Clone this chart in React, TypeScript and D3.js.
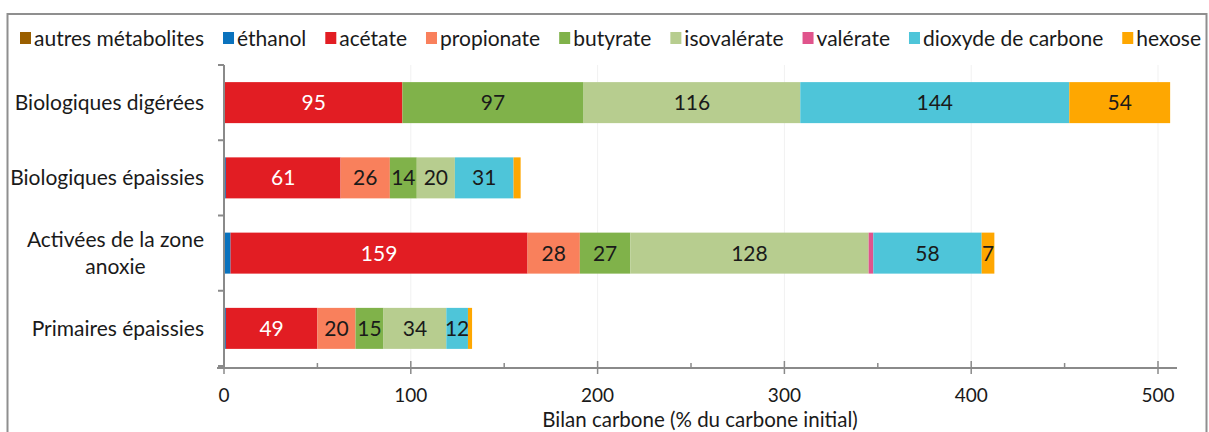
import React, { useEffect, useRef } from "react";
import * as d3 from "d3";

const categories = [
  "Biologiques digérées",
  "Biologiques épaissies",
  "Activées de la zone\nanoxie",
  "Primaires épaissies",
];

const seriesNames = [
  "autres métabolites",
  "éthanol",
  "acétate",
  "propionate",
  "butyrate",
  "isovalérate",
  "valérate",
  "dioxyde de carbone",
  "hexose",
];

const seriesColors = [
  "#9a5f00",
  "#0a72bd",
  "#e21d23",
  "#f9805c",
  "#80b24a",
  "#b7cd8f",
  "#e0548c",
  "#4ec5d9",
  "#fea701",
];

const autres = [0, 0, 0, 0];
const ethanol = [0.5, 1, 3.5, 1];
const acetate = [95, 61.4, 159, 49];
const propionate = [0, 26.4, 28, 20.4];
const butyrate = [97, 14.4, 27, 15];
const isovalerate = [116, 20.4, 127.6, 33.6];
const valerate = [0, 0, 2.5, 0];
const dioxyde = [144, 31.4, 58, 11.6];
const hexose = [54, 3.8, 6.8, 2.2];

const seriesValues = [autres, ethanol, acetate, propionate, butyrate, isovalerate, valerate, dioxyde, hexose];

const xTicks = [0, 100, 200, 300, 400, 500];
const xMinorTicks = [50, 150, 250, 350, 450];
const xTitle = "Bilan carbone (% du carbone initial)";

const FONT = "Lato, 'Open Sans', sans-serif";

export default function App() {
  const ref = useRef<SVGSVGElement | null>(null);

  useEffect(() => {
    const svg = d3.select(ref.current);
    svg.selectAll("*").remove();

    const W = 1209;
    const x = d3.scaleLinear().domain([0, 500]).range([224, 1158]);
    const y = d3.scaleBand<string>().domain(categories).range([65, 366]).paddingInner(0.455).paddingOuter(0.2275);

    svg.append("rect").attr("x", 0).attr("y", 0).attr("width", W).attr("height", 432).attr("fill", "#fff");
    // frame
    svg.append("rect").attr("x", 7.5).attr("y", 14).attr("width", 1199).attr("height", 440)
      .attr("fill", "none").attr("stroke", "#8f8f8f").attr("stroke-width", 2);

    // gridlines
    svg.append("g").selectAll("line").data(xTicks.slice(1)).join("line")
      .attr("x1", (d) => x(d)).attr("x2", (d) => x(d)).attr("y1", 65).attr("y2", 366)
      .attr("stroke", "#f1f1f1").attr("stroke-width", 1);

    // stacked bars
    const stackData = categories.map((c, i) => {
      const o: any = { cat: c };
      seriesNames.forEach((s, j) => (o[s] = seriesValues[j][i]));
      return o;
    });
    const stacked = d3.stack<any>().keys(seriesNames)(stackData);
    const barG = svg.append("g");
    stacked.forEach((layer, j) => {
      const g = barG.append("g").attr("fill", seriesColors[j]);
      g.selectAll("rect").data(layer).join("rect")
        .attr("x", (d) => x(d[0]))
        .attr("y", (d) => y(d.data.cat)!)
        .attr("width", (d) => Math.max(0, x(d[1]) - x(d[0])))
        .attr("height", y.bandwidth());
      g.selectAll("text").data(layer.filter((d) => d[1] - d[0] >= 5)).join("text")
        .attr("x", (d) => (x(d[0]) + x(d[1])) / 2)
        .attr("y", (d) => y(d.data.cat)! + y.bandwidth() / 2)
        .attr("dy", "0.36em")
        .attr("text-anchor", "middle")
        .attr("font-family", FONT)
        .attr("font-size", 21)
        .attr("fill", seriesNames[j] === "acétate" ? "#ffffff" : "#1a1a1a")
        .text((d) => d3.format(".0f")(d[1] - d[0]));
    });

    // y axis
    const axisColor = "#8a8a8a";
    svg.append("line").attr("x1", 224).attr("x2", 224).attr("y1", 65).attr("y2", 368)
      .attr("stroke", axisColor).attr("stroke-width", 2);
    const bounds = categories.map((c) => y(c)! - (y.step() - y.bandwidth()) / 2);
    bounds.push(366);
    svg.append("g").selectAll("line").data(bounds).join("line")
      .attr("x1", 218).attr("x2", 224).attr("y1", (d) => d).attr("y2", (d) => d)
      .attr("stroke", axisColor).attr("stroke-width", 2);

    // category labels
    const labelG = svg.append("g").attr("font-family", FONT).attr("font-size", 21).attr("fill", "#1a1a1a");
    categories.forEach((c) => {
      const lines = c.split("\n");
      const cy = y(c)! + y.bandwidth() / 2;
      const t = labelG.append("text").attr("text-anchor", "middle");
      const tspans = lines.map((l, k) =>
        t.append("tspan").attr("y", cy + (k - (lines.length - 1) / 2) * 27).attr("dy", "0.36em").text(l)
      );
      const maxW = d3.max(tspans, (ts) => (ts.node() as SVGTSpanElement).getComputedTextLength()) || 0;
      tspans.forEach((ts) => ts.attr("x", 204 - maxW / 2));
    });

    // x axis
    svg.append("line").attr("x1", 217).attr("x2", 1177).attr("y1", 368).attr("y2", 368)
      .attr("stroke", axisColor).attr("stroke-width", 2);
    svg.append("g").selectAll("line").data(xTicks).join("line")
      .attr("x1", (d) => x(d)).attr("x2", (d) => x(d)).attr("y1", 361).attr("y2", 374)
      .attr("stroke", axisColor).attr("stroke-width", 1.5);
    svg.append("g").selectAll("line").data(xMinorTicks).join("line")
      .attr("x1", (d) => x(d)).attr("x2", (d) => x(d)).attr("y1", 363).attr("y2", 368)
      .attr("stroke", axisColor).attr("stroke-width", 1.5);
    svg.append("g").selectAll("text").data(xTicks).join("text")
      .attr("x", (d) => x(d)).attr("y", 395).attr("dy", "0.36em")
      .attr("text-anchor", "middle").attr("font-family", FONT).attr("font-size", 19).attr("fill", "#1a1a1a")
      .text((d) => String(d));
    svg.append("text").attr("x", 700).attr("y", 420).attr("dy", "0.36em")
      .attr("text-anchor", "middle").attr("font-family", FONT).attr("font-size", 20.5).attr("fill", "#1a1a1a")
      .text(xTitle);

    // legend (justified between x=20 and x=1201)
    const legendG = svg.append("g").attr("font-family", FONT).attr("font-size", 21).attr("fill", "#1a1a1a");
    const sw = 11, off = 3;
    const items = seriesNames.map((s, j) => {
      const r = legendG.append("rect").attr("y", 32).attr("width", sw).attr("height", 12).attr("fill", seriesColors[j]);
      const t = legendG.append("text").attr("y", 38).attr("dy", "0.36em").text(s);
      const w = (t.node() as SVGTextElement).getComputedTextLength();
      return { r, t, w };
    });
    const totalW = d3.sum(items, (it) => sw + off + it.w);
    const gap = (1201 - 20 - totalW) / (items.length - 1);
    let lx = 20;
    items.forEach((it) => {
      it.r.attr("x", lx);
      it.t.attr("x", lx + sw + off);
      lx += sw + off + it.w + gap;
    });
  }, []);

  return (
    <svg
      ref={ref}
      width={1209}
      height={432}
      style={{ position: "absolute", left: 0, top: 0, display: "block" }}
    />
  );
}
